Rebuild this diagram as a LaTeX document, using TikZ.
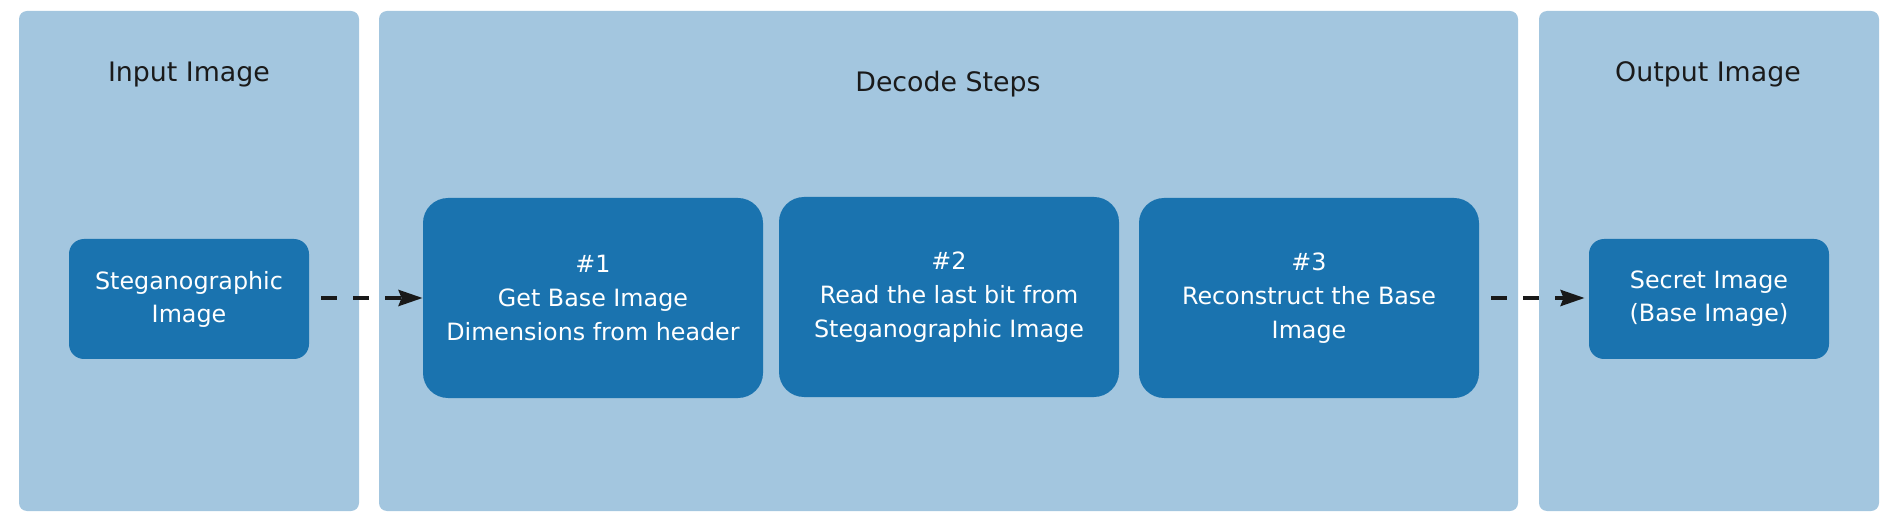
\documentclass[tikz,border=0pt]{standalone}
\usepackage{fontspec}
\setmainfont{DejaVu Sans}
\usetikzlibrary{arrows.meta}
\definecolor{panelblue}{HTML}{A3C6DF}
\definecolor{boxblue}{HTML}{1A73AF}
\definecolor{titleink}{HTML}{1A1A1A}
\tikzset{
  panel/.style={fill=panelblue, draw=none, rounded corners=4pt, minimum height=250pt, inner sep=0pt},
  smallbox/.style={fill=boxblue, draw=none, rounded corners=7.5pt, minimum width=120pt, minimum height=60pt, text=white, align=center, font=\fontsize{11.9}{16.5}\selectfont, inner sep=0pt},
  stepbox/.style={fill=boxblue, draw=none, rounded corners=12.5pt, minimum width=170pt, minimum height=100pt, text=white, align=center, font=\fontsize{11.9}{17}\selectfont, inner sep=0pt},
  paneltitle/.style={text=titleink, anchor=base, font=\fontsize{13.4}{16}\selectfont, inner sep=0pt},
  flow/.style={draw=black!90, line width=1.9pt, dash pattern=on 8pt off 8pt, -{Stealth[length=12pt, width=8pt, inset=1.5pt]}}
}
\begin{document}
\begin{tikzpicture}[x=0.5pt, y=-0.5pt]
  \useasboundingbox (0,0) rectangle (1896,518);
  % panels
  \node[panel, minimum width=170pt] (pin) at (189,261) {};
  \node[panel, minimum width=569.5pt] (pdec) at (948.5,261) {};
  \node[panel, minimum width=170pt] (pout) at (1709,261) {};
  % titles
  \node[paneltitle] (tin) at (189,82) {Input Image};
  \node[paneltitle] (tdec) at (948,92) {Decode Steps};
  \node[paneltitle] (tout) at (1708,82) {Output Image};
  % boxes
  \node[smallbox] (steg) at (189,299) {Steganographic\\Image};
  \node[stepbox] (s1) at (593,298) {\#1\\Get Base Image\\Dimensions from header};
  \node[stepbox] (s2) at (949,297) {\#2\\Read the last bit from\\Steganographic Image};
  \node[stepbox] (s3) at (1309,298) {\#3\\Reconstruct the Base\\Image};
  \node[smallbox] (secret) at (1709,299) {Secret Image\\(Base Image)};
  % connectors
  \draw[flow, shorten <=6pt] (steg.east |- 0,298) -- (s1.west |- 0,298);
  \draw[flow, shorten <=6pt, shorten >=2pt] (s3.east |- 0,298) -- (secret.west |- 0,298);
\end{tikzpicture}
\end{document}
